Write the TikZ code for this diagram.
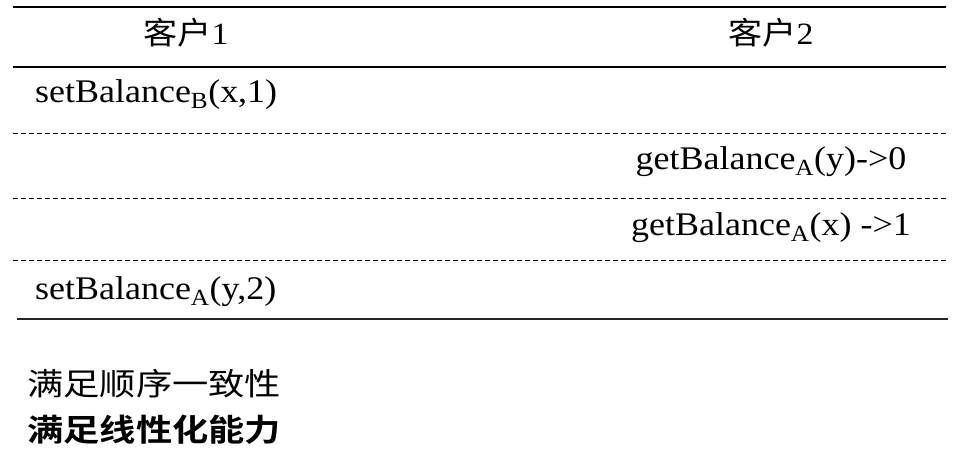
\documentclass[tikz,border=0pt]{standalone}
\usepackage{fontspec}
\setmainfont{Liberation Serif}[FakeStretch=1.09]
\newfontfamily\cjk{Noto Sans CJK SC}[FakeStretch=1.1]
\newfontfamily\cjknote{Noto Sans CJK SC}[FakeStretch=1.17]
\newfontfamily\cjkbf{Noto Sans CJK SC Bold}[FakeStretch=1.17]
\usetikzlibrary{positioning}

\begin{document}
\begin{tikzpicture}[x=1pt,y=-1pt]
        \def\xL{13}
        \def\xR{946}
        \def\colA{186}
        \def\colB{771}

        \useasboundingbox (0,0) rectangle (962,461);

        \tikzset{
            cell/.style={inner sep=0pt, font=\fontsize{33}{36}\selectfont},
            head/.style={inner sep=0pt, font=\fontsize{31}{34}\selectfont},
            note/.style={inner sep=0pt, anchor=base west},
            seprule/.style={line width=0.9pt, dash pattern=on 5pt off 3pt}
        }

        % table rules
        \draw[line width=2.3pt] (\xL,7) -- (\xR,7);
        \draw[line width=1.3pt] (\xL,67) -- (\xR,67);
        \draw[seprule] (\xL,133) -- (\xR,133);
        \draw[seprule] (\xL,198) -- (\xR,198);
        \draw[seprule] (\xL,260) -- (\xR,260);
        \draw[line width=1.3pt, black!85] (17,319) -- (948,319);

        % header
        \node[head, anchor=base] (c1) at (\colA,44) {{\cjk 客户}1};
        \node[head, anchor=base] (c2) at (\colB,44) {{\cjk 客户}2};

        % operations
        \node[cell, anchor=base west] (op1) at (35,102) {setBalance\textsubscript{B}(x,1)};
        \node[cell, anchor=base] (op2) at (\colB,169) {getBalance\textsubscript{A}(y)->0};
        \node[cell, anchor=base] (op3) at (\colB,235) {getBalance\textsubscript{A}(x) ->1};
        \node[cell, anchor=base west] (op4) at (35,299) {setBalance\textsubscript{A}(y,2)};

        \node[note, font=\cjknote\fontsize{31}{34}\selectfont] (seq) at (27,395) {满足顺序一致性};
        \node[note, font=\cjkbf\fontsize{31}{34}\selectfont] (lin) at (27,441) {满足线性化能力};
    \end{tikzpicture}
\end{document}
